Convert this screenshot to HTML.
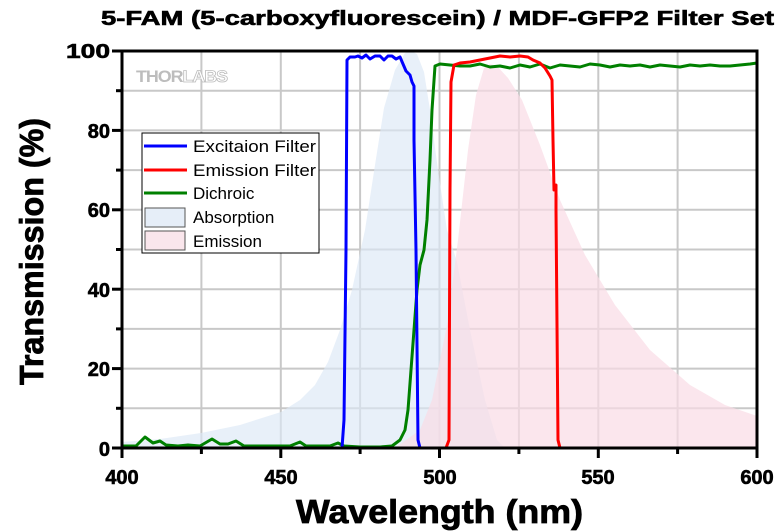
<!DOCTYPE html>
<html><head><meta charset="utf-8"><style>
body{margin:0;background:#fff;}
svg{display:block;font-family:"Liberation Sans",Arial,sans-serif;}
</style></head><body>
<svg width="780" height="532" viewBox="0 0 780 532" xmlns="http://www.w3.org/2000/svg">
<rect width="780" height="532" fill="#fff"/>
<g stroke="#c8c8c8" stroke-width="2">
<line x1="201.4" y1="51" x2="201.4" y2="448"/><line x1="280.8" y1="51" x2="280.8" y2="448"/><line x1="360.1" y1="51" x2="360.1" y2="448"/><line x1="439.5" y1="51" x2="439.5" y2="448"/><line x1="518.9" y1="51" x2="518.9" y2="448"/><line x1="598.3" y1="51" x2="598.3" y2="448"/><line x1="677.6" y1="51" x2="677.6" y2="448"/>
<line x1="122" y1="408.3" x2="757" y2="408.3"/><line x1="122" y1="368.6" x2="757" y2="368.6"/><line x1="122" y1="328.9" x2="757" y2="328.9"/><line x1="122" y1="289.2" x2="757" y2="289.2"/><line x1="122" y1="249.5" x2="757" y2="249.5"/><line x1="122" y1="209.8" x2="757" y2="209.8"/><line x1="122" y1="170.1" x2="757" y2="170.1"/><line x1="122" y1="130.4" x2="757" y2="130.4"/><line x1="122" y1="90.7" x2="757" y2="90.7"/>
</g>
<path d="M122,448 L122,442 L160,439 L201,433 L240,425 L281,412 L300,400 L315,385 L328,362 L340,330 L352,290 L365,230 L375,165 L384,108 L395,70 L405,53 L411,51 L417,54 L424,72 L430,110 L438,170 L447,230 L457,262 L470,330 L485,400 L497,440 L505,448 Z" fill="#dce8f6" fill-opacity="0.65"/>
<path d="M395,448 L420,430 L432,400 L448,320 L458,240 L468,150 L476,95 L484,68 L490,64 L497,66 L508,78 L522,100 L540,145 L560,200 L585,255 L615,305 L650,350 L690,385 L725,405 L757,416 L757,448 Z" fill="#f9dce6" fill-opacity="0.7"/>
<text x="136" y="82" font-size="17" font-weight="bold" fill="#bdbdbd" letter-spacing="-1" textLength="91" lengthAdjust="spacingAndGlyphs">THOR<tspan fill="#fff" stroke="#bdbdbd" stroke-width="0.8">LABS</tspan></text>
<polyline fill="none" stroke="#008000" stroke-width="3" stroke-linejoin="round" points="122,446 136,446 145,437 153,443 160,441 166,445 178,446 188,445 200,446 212,439 220,444 228,444 236,441 244,446 262,446 275,446 290,446 300,442 306,446 330,446 338,443 344,446 360,447 380,447 392,446 400,440 405,430 408,410 411,370 414,330 417,290 420,265 424,250 427,220 430,160 432,110 435,66 440,64 450,65 460,66 470,66 480,64 490,67 500,66 510,68 520,65 530,67 540,64 550,68 560,65 570,66 580,67 590,64 600,65 610,67 620,65 630,66 640,65 650,67 660,65 670,66 680,67 690,65 700,66 710,65 720,66 730,66 740,65 750,64 757,63"/>
<polyline fill="none" stroke="#0000ff" stroke-width="3" stroke-linejoin="round" points="122,448 342,448 344,420 346,250 347,60 350,57 355,57 358,56 362,58 366,55 370,59 375,56 380,56 384,60 388,56 392,56 396,59 400,57 403,64 406,71 410,75 412,82 414,86 414,140 416,250 418,440 420,448 757,448"/>
<polyline fill="none" stroke="#ff0000" stroke-width="3" stroke-linejoin="round" points="122,448 446,448 449,440 450,190 451,82 454,65 460,63 470,62 480,60 490,58 500,56 510,57 520,56 528,57 533,60 540,63 545,68 550,76 552,80 553,140 554,190 556,185 556,210 558,440 560,448 757,448"/>
<rect x="122" y="51" width="635" height="397" fill="none" stroke="#000" stroke-width="3"/>
<g stroke="#000" stroke-width="3">
<line x1="112" y1="448" x2="122" y2="448"/><line x1="112" y1="368.6" x2="122" y2="368.6"/><line x1="112" y1="289.2" x2="122" y2="289.2"/><line x1="112" y1="209.8" x2="122" y2="209.8"/><line x1="112" y1="130.4" x2="122" y2="130.4"/><line x1="112" y1="51" x2="122" y2="51"/>
<line x1="116" y1="408.3" x2="122" y2="408.3"/><line x1="116" y1="328.9" x2="122" y2="328.9"/><line x1="116" y1="249.5" x2="122" y2="249.5"/><line x1="116" y1="170.1" x2="122" y2="170.1"/><line x1="116" y1="90.7" x2="122" y2="90.7"/>
<line x1="122" y1="448" x2="122" y2="458"/><line x1="280.8" y1="448" x2="280.8" y2="458"/><line x1="439.5" y1="448" x2="439.5" y2="458"/><line x1="598.3" y1="448" x2="598.3" y2="458"/><line x1="757" y1="448" x2="757" y2="458"/>
<line x1="201.4" y1="448" x2="201.4" y2="454"/><line x1="360.1" y1="448" x2="360.1" y2="454"/><line x1="518.9" y1="448" x2="518.9" y2="454"/><line x1="677.6" y1="448" x2="677.6" y2="454"/>
</g>
<g font-size="20" font-weight="bold" fill="#000" text-anchor="end" stroke="#000" stroke-width="0.6">
<text x="110" y="456">0</text><text x="110" y="376">20</text><text x="110" y="297">40</text><text x="110" y="217">60</text><text x="110" y="138">80</text><text x="110" y="58" textLength="44" lengthAdjust="spacingAndGlyphs">100</text>
</g>
<g font-size="20" font-weight="bold" fill="#000" text-anchor="middle" stroke="#000" stroke-width="0.6">
<text x="122" y="484">400</text><text x="281" y="484">450</text><text x="440" y="484">500</text><text x="598" y="484">550</text><text x="757" y="484">600</text>
</g>
<text x="296" y="523" font-size="33" font-weight="bold" stroke="#000" stroke-width="0.8" textLength="287" lengthAdjust="spacingAndGlyphs">Wavelength (nm)</text>
<text transform="translate(43,385) rotate(-90)" font-size="33" font-weight="bold" stroke="#000" stroke-width="0.8" textLength="267" lengthAdjust="spacingAndGlyphs">Transmission (%)</text>
<text x="101" y="25" font-size="20" font-weight="bold" stroke="#000" stroke-width="0.6" textLength="673" lengthAdjust="spacingAndGlyphs">5-FAM (5-carboxyfluorescein) / MDF-GFP2 Filter Set</text>
<rect x="142" y="133" width="177" height="120" fill="#fff" stroke="#000" stroke-width="1"/>
<g stroke-width="3"><line x1="144" y1="146" x2="187" y2="146" stroke="#0000ff"/><line x1="144" y1="170" x2="187" y2="170" stroke="#ff0000"/><line x1="144" y1="193" x2="187" y2="193" stroke="#008000"/></g>
<rect x="145" y="208" width="40" height="19" fill="#e6eef8" stroke="#555" stroke-width="1"/>
<rect x="145" y="231" width="40" height="19" fill="#fae6ec" stroke="#555" stroke-width="1"/>
<g font-size="17" fill="#000">
<text x="193" y="152" textLength="123" lengthAdjust="spacingAndGlyphs">Excitaion Filter</text><text x="193" y="176" textLength="123" lengthAdjust="spacingAndGlyphs">Emission Filter</text><text x="193" y="199">Dichroic</text><text x="193" y="223">Absorption</text><text x="193" y="247">Emission</text>
</g>
</svg>
</body></html>
